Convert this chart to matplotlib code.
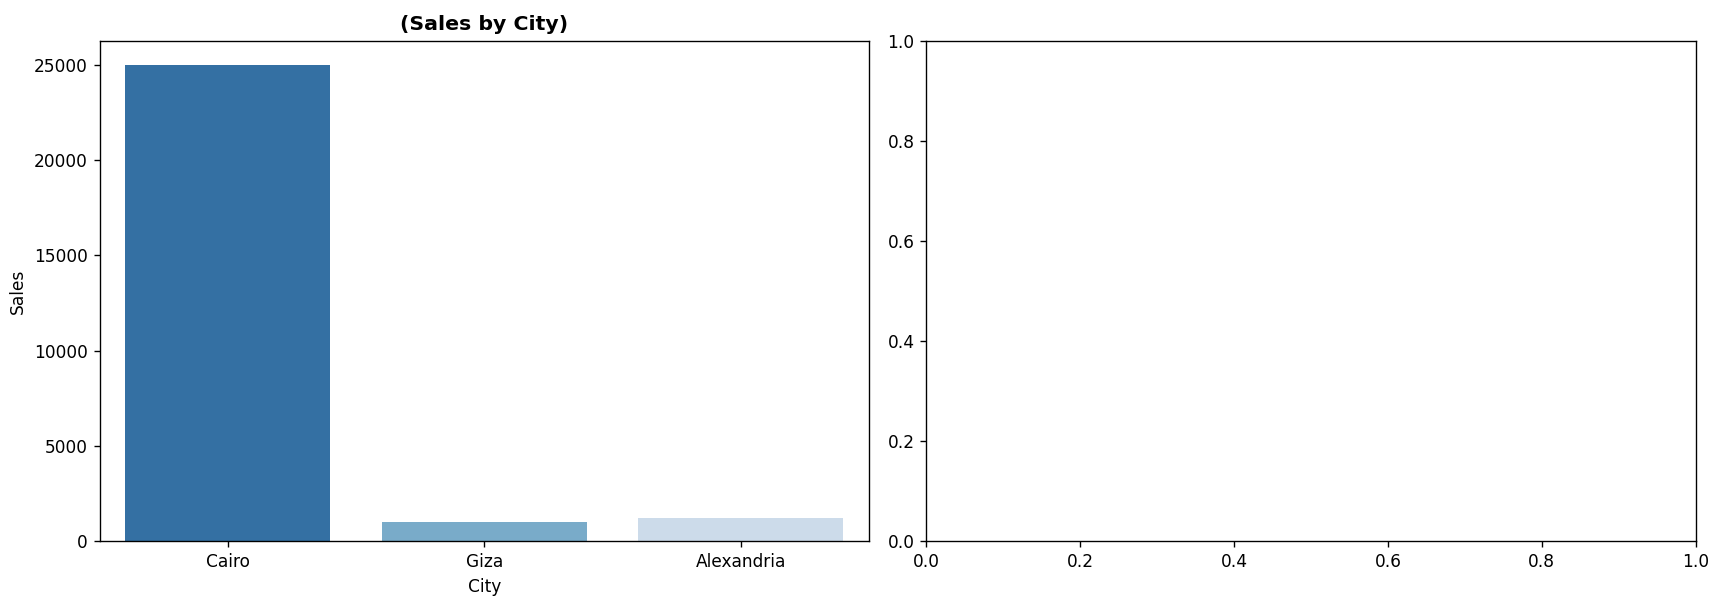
import matplotlib
matplotlib.use("Agg")
import matplotlib.pyplot as plt
import seaborn as sns
import pandas as pd

cities = ["Cairo", "Giza", "Alexandria"]
sales = [25000, 1030, 1220]

df = pd.DataFrame({"City": cities, "Sales": sales})

DPI = 1718 / 14
fig, axes = plt.subplots(1, 2, figsize=(14, 607 / DPI), dpi=DPI)
sns.barplot(data=df, x="City", y="Sales", hue="City", palette="Blues_r",
            legend=False, ax=axes[0])
axes[0].set_title("(Sales by City)", fontweight="bold", fontsize=12)
fig.subplots_adjust(left=0.058, right=0.987, top=0.933, bottom=0.108, wspace=0.075)
fig.savefig("out.png", dpi=DPI)
